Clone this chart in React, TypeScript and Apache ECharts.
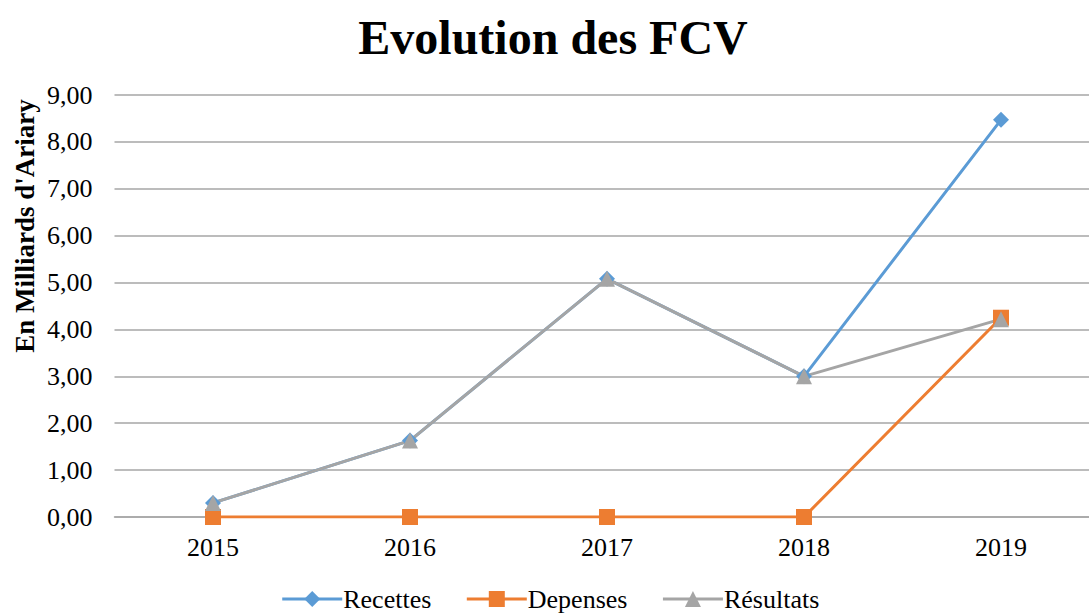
import React, { useEffect, useRef } from "react";
import * as echarts from "echarts";

const years = ["2015", "2016", "2017", "2018", "2019"];
const recettes = [0.3, 1.63, 5.08, 3.0, 8.47];
const depenses = [0, 0, 0, 0, 4.25];
const resultats = [0.3, 1.63, 5.08, 3.0, 4.22];
const yTicks = { min: 0, max: 9, interval: 1 };
const seriesNames = ["Recettes", "Depenses", "Résultats"];

const FONT = "'Liberation Serif', 'Times New Roman', serif";

export default function App() {
  const ref = useRef<HTMLDivElement>(null);
  useEffect(() => {
    document.body.style.margin = "0";
    document.body.style.overflow = "hidden";
    const chart = echarts.init(ref.current!, null, { renderer: "svg" });
    const mk = (name: string, data: number[], color: string, symbol: string, size: number) => ({
      name,
      type: "line",
      data,
      symbol,
      symbolSize: size,
      showAllSymbol: true,
      lineStyle: { color, width: 3 },
      itemStyle: { color },
      emphasis: { disabled: true },
    });
    chart.setOption({
      animation: false,
      backgroundColor: "#ffffff",
      textStyle: { fontFamily: FONT },
      title: {
        text: "Evolution des FCV",
        left: 548,
        textAlign: "center",
        top: 8,
        textStyle: { fontFamily: FONT, fontSize: 48, fontWeight: "bold", color: "#000" },
      },
      grid: { left: 114.5, right: 0.5, top: 95, bottom: 97, containLabel: false },
      xAxis: {
        type: "category",
        data: years,
        boundaryGap: true,
        axisLine: { show: true, lineStyle: { color: "#a6a6a6", width: 1.5 } },
        axisTick: { show: false },
        axisLabel: { fontFamily: FONT, fontSize: 26, color: "#000", margin: 17 },
      },
      yAxis: {
        type: "value",
        min: yTicks.min,
        max: yTicks.max,
        interval: yTicks.interval,
        axisLine: { show: false },
        axisTick: { show: false },
        splitLine: { lineStyle: { color: "#a6a6a6", width: 1.5 } },
        axisLabel: {
          fontFamily: FONT,
          fontSize: 26,
          color: "#000",
          margin: 22,
          formatter: (v: number) => v.toFixed(2).replace(".", ","),
        },
      },
      legend: {
        bottom: -3,
        left: "center",
        itemWidth: 60,
        itemHeight: 20,
        itemGap: 34,
        lineStyle: { width: 3 },
        textStyle: { fontFamily: FONT, fontSize: 26, color: "#000", padding: [0, 0, 0, -4] },
        data: seriesNames,
      },
      graphic: [
        {
          type: "text",
          x: 25,
          y: 226,
          rotation: Math.PI / 2,
          style: {
            text: "En Milliards d'Ariary",
            font: `bold 27px ${FONT}`,
            fill: "#000",
            textAlign: "center",
            textVerticalAlign: "middle",
          },
        },
      ],
      series: [
        mk(seriesNames[0], recettes, "#5b9bd5", "diamond", 16),
        mk(seriesNames[1], depenses, "#ed7d31", "rect", 16),
        mk(seriesNames[2], resultats, "#a5a5a5", "triangle", 16),
      ],
    });
    return () => chart.dispose();
  }, []);
  return (
    <div style={{ width: 1089, height: 614, overflow: "hidden", position: "relative" }}>
      <div ref={ref} style={{ width: 1100, height: 614 }} />
    </div>
  );
}
